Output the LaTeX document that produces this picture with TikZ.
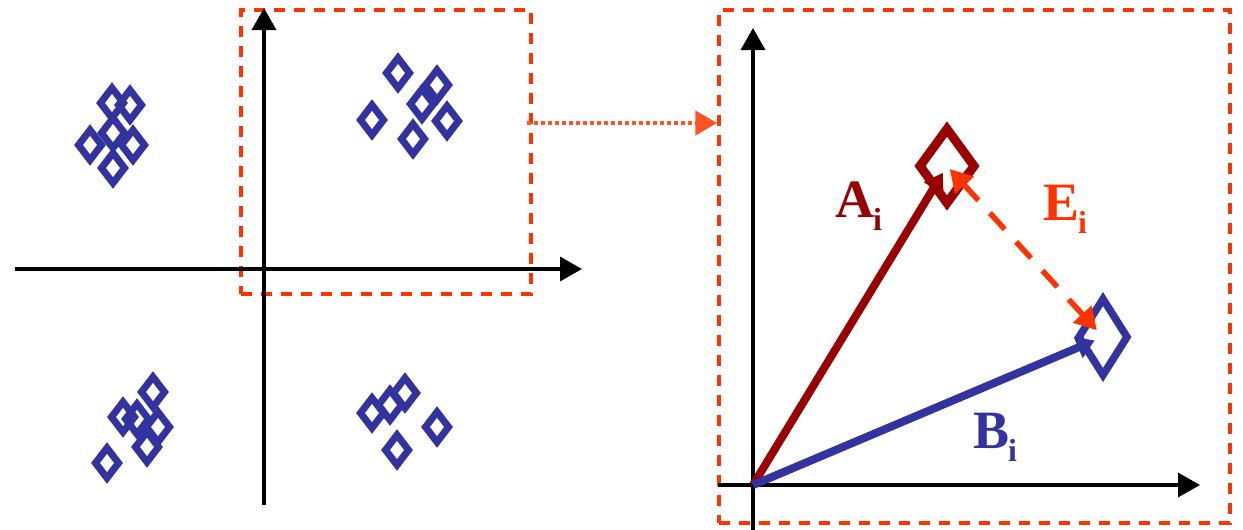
\documentclass[tikz,border=0pt]{standalone}
\usepackage{fontspec}
\setmainfont{Liberation Serif}
\usetikzlibrary{arrows.meta}
\definecolor{dblue}{RGB}{51,51,160}
\definecolor{dred}{RGB}{153,0,0}
\definecolor{ored}{RGB}{255,51,0}
\newcommand\smdia[1]{\draw[sdst] (#1) ++(-11.5,0) -- ++(11.5,-15) -- ++(11.5,15) -- ++(-11.5,15) -- cycle;}
\begin{document}
\begin{tikzpicture}[x=1pt,y=-1pt,
  axis/.style={line width=3.5pt,-{Triangle[length=22pt,width=24pt]}},
  frame/.style={rectangle,draw=ored,line width=3.5pt,dash pattern=on 11pt off 9pt,inner sep=0pt},
  sdst/.style={draw=dblue,line width=7pt,line join=miter},
  vec/.style={line width=8pt,-{Triangle[length=18pt,width=22pt]}},
  lbl/.style={anchor=base west,inner sep=0pt,font=\fontsize{54}{54}\selectfont\bfseries},
]
\useasboundingbox (0,0) rectangle (1243,530);

% left axes
\coordinate (lxs) at (15,269);
\coordinate (lxe) at (582,269);
\coordinate (lys) at (264,505);
\coordinate (lye) at (264,8);
% left frame
\node[frame,minimum width=290pt,minimum height=284pt] (lbox) at (386,152) {};
\draw[axis] (lxs) -- (lxe);
\draw[axis] (lys) -- (lye);

% cluster 1
\smdia{112,103}
\smdia{130,105}
\smdia{113,133}
\smdia{90,145}
\smdia{133,145}
\smdia{113,168}
% cluster 2
\smdia{398,73}
\smdia{437,85}
\smdia{422,104}
\smdia{372,120}
\smdia{447,121}
\smdia{413,139}
% cluster 3
\smdia{153,392}
\smdia{123,417}
\smdia{137,419}
\smdia{158,427}
\smdia{147,447}
\smdia{107,463}
% cluster 4
\smdia{372,413}
\smdia{390,405}
\smdia{405,393}
\smdia{437,427}
\smdia{397,450}

% right frame
\node[frame,minimum width=511pt,minimum height=513pt] (rbox) at (974.5,266.5) {};
% connector
\coordinate (cs) at (527,123);
\draw[ored!85,line width=4.5pt,dash pattern=on 3.5pt off 3.5pt,-{Triangle[length=22pt,width=24pt]}] (cs) -- (cs -| rbox.west);

% right axes
\coordinate (O) at (753,485);
\coordinate (rxs) at (718,485);
\coordinate (rxe) at (1200,485);
\coordinate (rys) at (753,530);
\coordinate (rye) at (753,28);
\draw[axis] (rxs) -- (rxe);
\draw[axis] (rys) -- (rye);

% big diamonds
\coordinate (A) at (947,166);
\coordinate (B) at (1103,337);
\draw[dred,line width=9pt,line join=miter] (A) ++(-27,0) -- ++(27,-37) -- ++(27,37) -- ++(-27,37) -- cycle;
\draw[dblue,line width=7.5pt,line join=miter] (B) ++(-24,0) -- ++(24,-38) -- ++(24,38) -- ++(-24,38) -- cycle;

% vectors
\draw[vec,dred,shorten >=8pt] (O) -- (A);
\draw[vec,dblue,shorten >=9pt] (O) -- (B);
\draw[ored,line width=5.5pt,dash pattern=on 22pt off 17pt,{Triangle[length=22pt,width=24pt]}-{Triangle[length=22pt,width=24pt]},shorten <=4pt,shorten >=9pt] (A) -- (B);

% labels
\node[lbl,text=dred] (la) at (835,217) {A\kern-1pt\raisebox{-13pt}{\fontsize{32}{32}\selectfont i}};
\node[lbl,text=ored] (le) at (1043,220) {E\kern-1pt\raisebox{-13pt}{\fontsize{32}{32}\selectfont i}};
\node[lbl,text=dblue] (lb) at (973,448) {B\kern-1pt\raisebox{-13pt}{\fontsize{32}{32}\selectfont i}};
\end{tikzpicture}
\end{document}
